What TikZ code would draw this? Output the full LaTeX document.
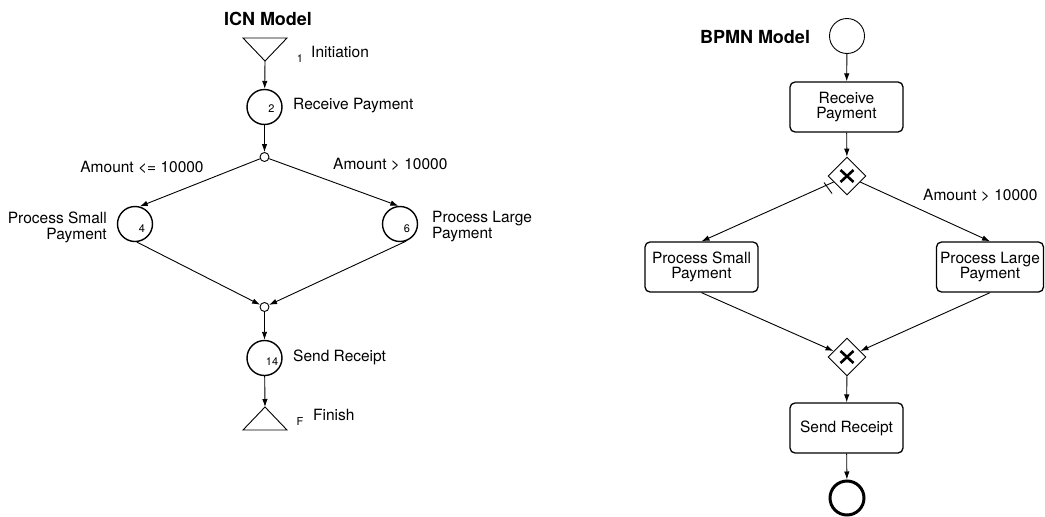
\documentclass[tikz,border=0pt]{standalone}
\usepackage{fontspec}
\setmainfont{TeX Gyre Heros}
\usetikzlibrary{arrows.meta,shapes.geometric}
\begin{document}
\begin{tikzpicture}[x=1pt,y=-1pt,
  lbl/.style={font=\fontsize{15.5}{16}\selectfont, inner sep=0pt},
  num/.style={font=\fontsize{11}{11}\selectfont, inner sep=0pt},
  ttl/.style={font=\fontsize{18}{18}\selectfont\bfseries, inner sep=0pt},
  icn/.style={circle, draw, line width=1.4pt, minimum size=35pt, inner sep=0pt},
  dot/.style={circle, draw, line width=0.9pt, minimum size=9pt, inner sep=0pt, fill=white},
  tri/.style={draw, line width=0.9pt, line join=miter},
  flow/.style={draw, line width=0.9pt, -{Latex[length=8pt,width=5.5pt]}},
  plain/.style={draw, line width=0.9pt},
  task/.style={draw, rounded corners=5pt, line width=1.3pt, minimum width=113pt, minimum height=50pt, align=center, inner sep=0pt, font=\fontsize{15.5}{15.5}\selectfont},
  gw/.style={diamond, draw, line width=0.9pt, minimum size=38pt, inner sep=0pt, fill=white},
  xmark/.style={draw, line width=2.6pt},
  startev/.style={circle, draw, line width=0.9pt, minimum size=35pt, inner sep=0pt},
  endev/.style={circle, draw, line width=3pt, minimum size=34pt, inner sep=0pt},
]
\useasboundingbox (0,0) rectangle (1045,517);

% ---------------- ICN model ----------------
\node[ttl] (icnt) at (268,19) {ICN Model};
\draw[tri] (243,38) -- (287,38) -- (265,61) -- cycle;
\coordinate (t1) at (265,61);
\node[num] (n1) at (300,59) {1};
\node[lbl, anchor=mid west] (l1) at (311,55) {Initiation};

\node[icn] (c2) at (264.5,107) {};
\node[num] (n2) at (271.5,108.5) {2};
\node[lbl, anchor=mid west] (l2) at (293,107) {Receive Payment};

\node[dot] (s) at (264.5,157) {};

\node[icn] (c4) at (135,224) {};
\node[num] (n4) at (142,229) {4};
\node[lbl, anchor=east, align=right] (l4) at (107,227) {Process Small\\Payment};

\node[icn] (c6) at (400,224) {};
\node[num] (n6) at (407,229) {6};
\node[lbl, anchor=west, align=left] (l6) at (432,227) {Process Large\\Payment};

\node[lbl] (a1) at (142,167) {Amount <= 10000};
\node[lbl, anchor=mid west] (a2) at (333,167) {Amount > 10000};

\node[dot] (j) at (264.5,307) {};

\node[icn] (c14) at (264.5,358) {};
\node[num] (n14) at (272,362) {14};
\node[lbl, anchor=mid west] (l14) at (293,359) {Send Receipt};

\coordinate (t2) at (265,407);
\draw[tri] (t2) -- (287,430) -- (243,430) -- cycle;
\node[num] (nF) at (300,421) {F};
\node[lbl, anchor=mid west] (lF) at (313,418) {Finish};

\draw[flow] (t1) -- (c2);
\draw[flow] (c2) -- (s);
\draw[flow] (s) -- (c4.75);
\draw[flow] (s) -- (c6.95);
\draw[flow] (c4.-84) -- (j);
\draw[flow] (c6.-70) -- (j);
\draw[flow] (j) -- (c14);
\draw[flow] (c14) -- (t2);

% ---------------- BPMN model ----------------
\node[ttl] (bpt) at (755,37) {BPMN Model};
\node[startev] (st) at (847,36) {};
\node[task] (rp) at (846.5,107) {Receive\\Payment};
\node[gw] (g1) at (847,176) {};
\draw[xmark] (g1) ++(-6.5,-6) -- ++(13,12);
\draw[xmark] (g1) ++(6.5,-6) -- ++(-13,12);
\node[task] (ps) at (701.5,267) {Process Small\\Payment};
\node[task, minimum width=107pt] (pl) at (990,267) {Process Large\\Payment};
\node[lbl, anchor=mid west] (a3) at (923,198) {Amount > 10000};
\node[gw] (g2) at (847,357) {};
\draw[xmark] (g2) ++(-6.5,-6) -- ++(13,12);
\draw[xmark] (g2) ++(6.5,-6) -- ++(-13,12);
\node[task] (sr) at (846.5,428) {Send Receipt};
\node[endev] (en) at (847,498) {};

\draw[flow] (st) -- (rp);
\draw[flow] (rp) -- (g1);
\draw[flow] (g1) -- (ps.north);
\draw[flow] (g1) -- (pl.north);
\draw[plain] (g1) ++(-23,6.5) -- ++(8,11);
\draw[flow] (ps.south) -- (g2);
\draw[flow] (pl.south) -- (g2);
\draw[flow] (g2) -- (sr);
\draw[flow] (sr) -- (en);
\end{tikzpicture}
\end{document}
